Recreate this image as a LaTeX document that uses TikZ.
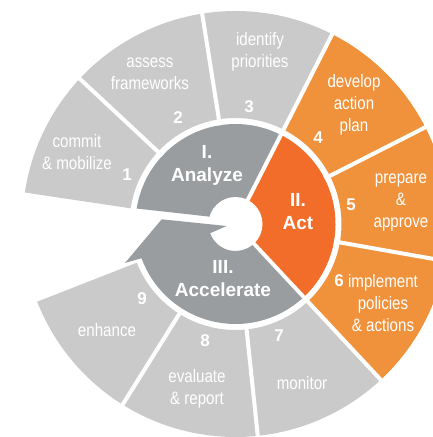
\documentclass[tikz,border=0pt]{standalone}
\usepackage{fontspec}
\setmainfont{Liberation Sans}
\newfontfamily\narrowfont{Liberation Sans}[FakeStretch=0.84]
\usetikzlibrary{calc}
\definecolor{lgray}{HTML}{C9CAC9}
\definecolor{dgray}{HTML}{9A9D9F}
\definecolor{lorange}{HTML}{F0923B}
\definecolor{dorange}{HTML}{F26D2A}
\newcommand\outerseg[3]{\fill[#3] ($(C)+(#1:106)$) arc[start angle=#1, end angle=#2, radius=106] -- ($(C)+(#2:213)$) arc[start angle=#2, end angle=#1, radius=213] -- cycle;}
\begin{document}
\begin{tikzpicture}[x=1pt,y=1pt,
  seglabel/.style={text=white, font=\narrowfont\fontsize{18}{22}\selectfont, align=center, inner sep=0pt},
  numlabel/.style={text=white, font=\bfseries\fontsize{17}{20}\selectfont, inner sep=0pt},
  phaselabel/.style={text=white, font=\bfseries\fontsize{19}{23}\selectfont, align=center, inner sep=0pt},
  sep/.style={draw=white, line width=4pt}]
\useasboundingbox (0,0) rectangle (433,437);
\clip (0,0) rectangle (433,437);
\coordinate (C) at (235.5,213);
% outer ring
\outerseg{137}{171.5}{lgray}
\outerseg{99}{137}{lgray}
\outerseg{63}{99}{lgray}
\outerseg{27}{63}{lorange}
\outerseg{-10}{27}{lorange}
\outerseg{-47}{-10}{lorange}
\outerseg{-84}{-47}{lgray}
\outerseg{-122}{-84}{lgray}
\outerseg{-158.6}{-122}{lgray}
% inner ring
\fill[dgray] (210,220.3) -- ($(C)+(171.1:100)$) arc[start angle=171.1, end angle=63, radius=100] -- (C) -- cycle;
\fill[dorange] (C) -- ($(C)+(-47:100)$) arc[start angle=-47, end angle=63, radius=100] -- cycle;
% separators
\draw[sep] (C) -- ($(C)+(63:216)$);
\draw[sep] (C) -- ($(C)+(-47:216)$);
\foreach \a in {137,99,27,-10,-84,-122} \draw[sep] ($(C)+(\a:100)$) -- ($(C)+(\a:216)$);
% hub
\fill[white] (C) circle[radius=27];
% accelerate arrow
\fill[dgray] ($(C)+(-48.15:100)$) arc[start angle=-48.15, end angle=-160, radius=100] -- (125,174) -- (161.7,217.7) -- (226.7,211) -- ($(C)+(200:27)$) arc[start angle=200, end angle=308.8, radius=27] -- cycle;
% labels
\node[seglabel] (t1) at (77,285) {commit\\\& mobilize};
\node[numlabel] (n1) at (127,262) {1};
\node[seglabel] (t2) at (150,363.5) {assess\\frameworks};
\node[numlabel] (n2) at (178,319) {2};
\node[seglabel] (t3) at (260,385) {identify\\priorities};
\node[numlabel] (n3) at (249,330) {3};
\node[seglabel] (t4) at (354,332) {develop\\action\\plan};
\node[numlabel] (n4) at (318,299) {4};
\node[seglabel] (t5) at (401,234) {prepare\\\&\\approve};
\node[numlabel] (n5) at (351,232) {5};
\node[seglabel] (t6) at (383,134) {implement\\policies\\\& actions};
\node[numlabel] (n6) at (339,156) {6};
\node[seglabel] (t7) at (302,54) {monitor};
\node[numlabel] (n7) at (279,101) {7};
\node[seglabel] (t8) at (197,48) {evaluate\\\& report};
\node[numlabel] (n8) at (205,96) {8};
\node[seglabel] (t9) at (107,107) {enhance};
\node[numlabel] (n9) at (142,138) {9};
\node[phaselabel] (p1) at (207,272) {I.\\Analyze};
\node[phaselabel] (p2) at (298,225) {II.\\Act};
\node[phaselabel] (p3) at (223,158.5) {III.\\Accelerate};
\end{tikzpicture}
\end{document}
